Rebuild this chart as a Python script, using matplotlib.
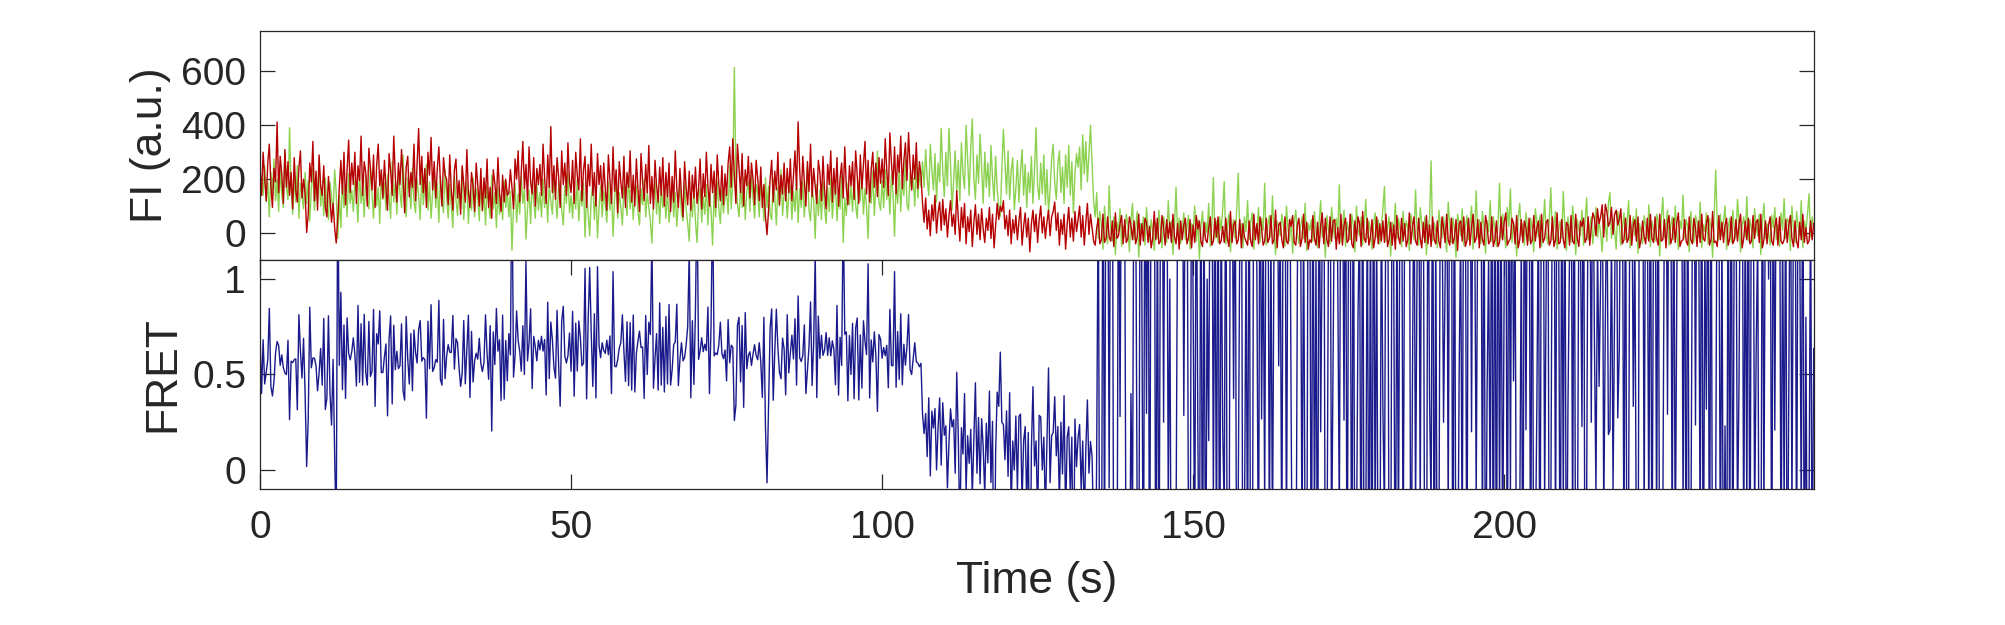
import numpy as np
import matplotlib
matplotlib.use('Agg')
import matplotlib.pyplot as plt

plt.rcParams['font.family'] = ['Liberation Sans', 'DejaVu Sans']

# frame time of the trace (s)
DT = 0.25

# acceptor intensity (a.u.), 0 - 106.5 s
red_high = [
    250, 140, 300, 205, 120, 260, 330, 175, 95, 240, 190, 412, 150, 285, 220, 110, 310, 170, 265, 140,
    225, 90, 280, 160, 115, 240, 305, 130, 200, 150, 2, 70, 260, 190, 340, 120, 230, 85, 290, 175,
    140, 250, 95, 60, 210, 130, 40, 110, 20, -37, 55, 170, 270, 145, 300, 105, 235, 345, 150, 260,
    180, 300, 110, 250, 195, 360, 140, 265, 225, 100, 315, 240, 160, 290, 95, 250, 330, 175, 235, 130,
    270, 165, 85, 295, 230, 140, 360, 210, 115, 260, 180, 310, 205, 75, 245, 285, 135, 225, 170, 330,
    120, 255, 388, 180, 285, 150, 240, 95, 300, 215, 355, 160, 265, 130, 240, 320, 190, 100, 280, 215,
    200, 105, 290, 160, 85, 235, 275, 130, 195, 70, 250, 180, 115, 310, 150, 95, 225, 175, 80, 260,
    180, 100, 240, 85, 205, 130, 275, 95, 170, 55, 235, 185, 110, 280, 150, 80, 215, 115, 200, 140,
    150, 235, 170, 90, 275, 200, 305, 115, 225, 340, 165, 255, 120, 320, 190, 145, 280, 100, 240, 180,
    255, 140, 330, 205, 110, 290, 170, 395, 150, 250, 125, 280, 210, 95, 305, 180, 260, 140, 335, 190,
    150, 270, 110, 300, 215, 160, 350, 120, 235, 285, 95, 255, 175, 330, 140, 225, 100, 295, 180, 250,
    120, 260, 165, 85, 290, 200, 110, 320, 155, 235, 75, 265, 190, 130, 285, 95, 225, 170, 305, 115,
    215, 100, 275, 165, 80, 295, 190, 120, 255, 150, 325, 110, 210, 90, 270, 175, 115, 245, 140, 280,
    100, 225, 135, 260, 80, 210, 115, 305, 165, 95, 240, 140, 60, 265, 170, 105, 230, 85, 215, 130,
    245, 110, 165, 275, 90, 220, 135, 300, 175, 100, 255, 150, 230, 95, 290, 180, 120, 250, 105, 220,
    140, 260, 320, 170, 350, 215, 110, 330, 240, 150, 295, 100, 235, 175, 285, 130, 260, 200, 105, 270,
    205, 120, 245, 95, 180, 60, -6, 85, 200, 270, 115, 230, 160, 300, 105, 215, 145, 260, 120, 240,
    150, 275, 120, 215, 305, 160, 413, 235, 125, 285, 190, 100, 265, 155, 330, 135, 240, 175, 110, 270,
    225, 120, 285, 160, 90, 255, 180, 305, 115, 240, 145, 280, 100, 205, 260, 130, 320, 170, 105, 250,
    175, 265, 125, 305, 215, 110, 290, 165, 250, 340, 145, 270, 115, 235, 300, 170, 260, 135, 280, 185,
    275, 170, 350, 235, 140, 372, 260, 180, 320, 145, 290, 225, 360, 165, 270, 335, 195, 373, 250, 160,
    290, 200, 335, 165, 265, 215,
]

# donor intensity (a.u.), 0 - 106.5 s
green_high = [
    100, 210, 140, 250, 115, 190, 60, 225, 150, 275, 120, 200, 80, 235, 145, 95, 300, 170, 125, 391,
    170, 70, 205, 115, 250, 55, 185, 140, 90, 225, 110, 195, 45, 165, 240, 85, 190, 120, 280, 100,
    175, 65, 205, 100, 50, 190, 130, 80, 235, 150, -20, 140, 20, 200, 95, 175, 60, 220, 110, 160,
    80, 195, 140, 40, 230, 110, 175, 60, 215, 125, 90, 250, 150, 55, 190, 100, 170, 35, 225, 125,
    185, 85, 215, 135, 55, 265, 115, 190, 70, 230, 150, 95, 290, 130, 60, 205, 165, 90, 240, 120,
    75, 200, 140, 50, 215, 105, 175, 255, 85, 190, 55, 150, 230, 95, 185, 40, 210, 125, 75, 235,
    135, 55, 180, 100, 20, 210, 125, 65, 170, 90, 245, 50, 140, 185, 35, 155, 85, 205, 60, 165,
    130, 45, 190, 80, 160, 30, 175, 105, 55, 215, 90, 150, 20, 170, 70, 140, 50, 195, 95, 160,
    60, 155, -64, 95, 185, 40, 145, 70, 210, 110, 165, -22, 90, 160, 35, 195, 120, 55, 180, 85,
    150, 60, 200, 95, 170, 40, 185, 115, 70, 215, 135, 55, 170, 190, 85, 30, 175, 110, 225, 75,
    140, 55, 175, 90, 200, 45, 155, 100, 185, -15, 160, 70, -10, 135, 180, 50, 165, -18, 95, 175,
    60, 155, 105, 40, 190, 85, 165, -12, 130, 200, 55, 150, 95, 30, 175, 110, 65, 215, 90, 160,
    50, 145, 175, 80, 30, 165, 105, 200, 60, 150, 95, 45, -37, 120, 190, 70, 160, 35, 175, 95,
    145, 55, 165, 40, 100, 190, 60, 150, 25, 120, 175, 70, 45, 185, 90, 35, -30, 140, 60, 160,
    45, -35, 120, 165, 40, 135, 70, 180, 30, 150, 85, -45, 155, 60, 190, 95, 35, 160, 75, 130,
    160, 70, 250, 90, 195, 615, 215, 105, 60, 175, 95, 205, 50, 155, 190, 80, 215, 130, 55, 180,
    150, 60, 190, 155, 45, 205, 95, 175, 70, 50, 200, 140, 30, 170, 100, 235, 65, 150, 185, 55,
    145, 175, 50, 155, 80, 200, 40, 165, 95, 190, 60, 150, 245, 85, 45, 170, 120, -20, 180, 65,
    160, 50, 190, 95, 35, 170, 80, 205, 55, 140, 180, 45, 155, 90, 215, -35, 130, 65, 185, 105,
    175, 80, 210, 105, 55, 190, 120, 220, 70, 165, 95, -20, 190, 110, 230, 65, 175, 305, 115, 85,
    195, 95, 235, 125, 185, 70, 215, 150, -12, 190, 110, 250, 80, 205, 140, 275, 105, 85, 225, 160,
    205, 100, 255, 130, 225, 170,
]

# 106.5 - 134 s
red_mid = [
    110, 40, 130, 15, 85, -10, 105, 45, 140, 0, 75, 115, 10, 125, 30, 90, -15, 65, 120, 25,
    70, -5, 157, 55, -30, 95, 20, 110, -40, 60, 5, 85, -50, 40, 105, -5, 70, -25, 90, 15,
    -35, 55, 10, 95, -20, 70, -55, 30, 110, 50, 100, 80, 120, 15, 65, -10, 85, -40, 50, 0,
    65, -25, 45, 95, -45, 25, 75, -15, 55, -70, 35, 85, 5, 70, -35, 50, 100, 0, 60, -20,
    40, 85, -10, 60, 80, 115, 10, 75, -45, 50, -5, 70, -60, 35, 95, -15, 55, -30, 80, 5,
    50, 100, -15, 65, -45, 40, 110, -5, 70, 20,
]

green_mid = [
    265, 170, 310, 200, 140, 330, 235, 160, 295, 115, 260, 190, 389, 230, 135, 300, 175, 389, 255, 86,
    195, 305, 150, 270, 120, 335, 220, 165, 400, 275, 140, 315, 424, 200, 125, 290, 185, 367, 245, 110,
    300, 170, 260, 135, 325, 205, 120, 285, 160, 100, 62, 240, 385, 265, 145, 305, 125, 230, 280, 86,
    165, 270, 115, 230, 310, 140, 255, 95, 225, 150, 285, 110, 235, 391, 175, 125, 260, 145, 290, 105,
    235, 74, 160, 275, 330, 185, 125, 255, 305, 150, 245, 110, 290, 170, 325, 140, 265, 74, 220, 295,
    245, 320, 160, 365, 220, 340, 190, 295, 400, 255,
]

# 134 - 250 s (both dyes bleached)
red_low = [
    -30, -45, 20, 55, -40, -25, 70, -35, -20, 60, -15, -30, 45, -50, 75, -20, -10, 35, 65, -40,
    50, -35, -20, 60, 30, -25, 45, -40, -15, 70, -45, 35, -30, 55, 40, -35, 25, -55, -20, 80,
    -25, 55, -40, -30, 65, 20, -45, 50, -20, 40, -35, 70, -15, -40, 35, -60, 45, -25, 30, 55,
    -40, -20, 50, -55, 30, -35, 65, 15, 45, -30, -50, 40, -25, -35, 20, 60, -45, -30, 55, -15,
    60, -40, -30, 25, -35, 55, -20, -50, 80, -35, 30, 45, -40, -25, 50, -55, 35, -15, -30, -45,
    45, -30, -50, 70, -25, 35, -40, 60, 20, -45, -30, 55, -35, -20, 65, -40, -25, 85, -55, 30,
    40, -25, -55, 60, -30, -40, 50, 25, 65, -35, -45, 30, 55, -50, -20, 70, -35, 40, -60, -25,
    -35, 65, -20, -45, 40, -55, 30, 75, -40, 55, -25, -50, 60, -30, 45, 50, -60, 20, -40, 70,
    -45, 30, 55, -35, -25, 70, -40, -55, 45, -30, 60, 35, -50, 80, -20, -35, 55, -45, -15, 50,
    -55, -20, 60, -40, 35, -30, 45, -35, 70, -50, -25, 40, -45, 30, -60, 65, -15, -40, 55, -30,
    35, -50, -25, 75, -40, 25, 60, -30, -45, 55, -20, -55, 40, -35, 65, -40, 30, -50, 60, -25,
    -40, 45, -30, -55, 60, 20, -35, 70, -25, -45, 55, -40, -20, 50, -65, 35, 45, -30, 60, -50,
    -30, 55, -45, 25, 70, -35, -20, 50, -55, 40, -25, -45, 65, 30, -40, -30, 60, -50, -25, 45,
    -50, -35, 60, -25, 40, 75, -45, -30, -20, 55, 35, -40, 65, -55, -25, 50, -35, 45, 20, -45,
    55, -40, -25, 65, -30, 20, 45, -55, 70, -35, -20, 40, 50, -45, -30, 60, -50, -25, 75, -40,
    -35, 50, -25, -55, 40, 30, -45, 65, -30, -40, 70, -20, -50, 45, 25, 55, -35, -20, 60, -45,
    20, 75, 55, -10, 90, 35, 60, 105, -15, 107, 80, 25, 40, 95, -5, 70, 85, 30, 50, 90,
    -40, -25, 55, -35, -20, 65, -45, 30, 50, -30, 60, -55, -25, 45, -15, -40, 55, -30, 70, -20,
    -35, 60, -20, -45, 70, -30, -25, 50, -55, 35, 65, -40, -20, 55, -35, 40, 75, -50, -30, -25,
    50, -30, -45, 60, -25, -40, 55, 20, -50, 45, -35, 70, -20, -30, 35, 65, -45, -25, 80, -35,
    -30, -50, 65, -25, 40, -35, 30, 55, -45, -20, 60, -40, -25, 50, -30, 35, 70, -55, -20, 45,
    -25, 55, -40, -30, 65, -20, 40, 50, -35, 70, -55, -25, 45, -40, 30, 60, -30, -45, 25, 55,
    -45, 60, -30, -40, -25, 50, -35, 30, 65, -20, -50, 45, -30, -55, 40, -25, 70, -35, 20, -40,
    -30, 45, -25, 35,
]

green_low = [
    120, 60, 150, -20, 80, 30, -60, 100, 10, -40, 175, 20, -30, 60, -80, 40, 5, 90, -50, 25,
    -15, 70, 30, -70, 45, 110, -25, 15, 80, -90, 35, 0, 60, -45, 95, 20, -30, 50, 5, -65,
    40, -20, 85, 10, -55, 60, 25, -35, 120, 0, 45, -80, 30, 170, -10, 55, -40, 15, 75, -25,
    20, 65, -60, 35, 5, 100, -30, 50, -95, 25, 80, -15, 40, 0, 110, -50, 30, 206, -20, 45,
    -35, 60, 10, 90, 191, -40, 25, 70, -70, 15, 50, -20, 85, 222, -10, 35, -55, 60, 5, 120,
    -25, 40, 75, -60, 20, 0, 95, -35, 55, 10, 185, -45, 30, 65, -15, 138, 5, -80, 45, 25,
    -10, 70, 30, -50, 100, 15, -30, 55, -75, 40, 85, 0, -40, 20, 60, -20, 110, -65, 35, 10,
    50, -30, 80, 5, -55, 40, 120, -15, 25, -90, 65, 10, -40, 95, 30, -20, 55, 0, 179, -35,
    20, 85, -50, 40, 10, -25, 70, 30, -70, 100, 15, -10, 60, -45, 35, 125, -20, 45, 5, -60,
    30, 75, -15, 50, -40, 10, 90, 173, -30, 25, 60, -85, 40, 0, 110, -20, 55, 15, -50, 80,
    -10, 45, 20, -65, 70, 30, -25, 160, 5, -45, 95, 35, -15, 60, -80, 20, 50, 268, -30, 40,
    10, -55, 85, 25, -20, 60, 0, -70, 115, 30, -35, 55, 15, -90, 70, 40, -10, 90, -45, 20,
    65, -25, 35, 100, -60, 10, 157, -15, 50, -40, 80, 20, -75, 45, 5, 120, -30, 60, 15, -50,
    30, 185, -20, 70, 0, -55, 95, 25, 164, -35, 40, 10, -85, 60, 110, -10, 35, -45, 75, 20,
    -30, 55, 15, -70, 90, 40, -15, 65, -50, 20, 125, 0, -40, 50, 168, -25, 30, 80, -60, 10,
    45, -20, 154, 25, -65, 60, 5, -35, 100, 30, -80, 50, 15, -10, 85, -45, 40, 130, -25, 20,
    60, -40, 25, 95, -15, 45, 0, -70, 70, 35, -30, 110, 150, -20, 55, 10, -60, 80, 30, -45,
    15, 75, -25, 40, 120, -55, 20, 60, -10, 90, -75, 35, 5, -40, 65, 25, -20, 105, -50, 45,
    10, -30, 70, 40, -85, 55, 132, -15, 30, 85, -45, 20, 60, -25, 100, 0, -60, 45, 15, 141,
    -20, 50, 25, -70, 80, 10, -35, 65, 40, -15, 115, -55, 30, 5, 75, -40, 55, 20, -90, 60,
    234, 30, -25, 70, -10, 45, 100, -60, 20, 55, -35, 85, 10, -20, 125, 40, -70, 30, 60, -15,
    135, -30, 50, 15, -55, 90, 25, -10, 70, -80, 40, 110, -20, 35, 0, -45, 65, 20, 95, -25,
    30, -50, 75, 10, 128, -20, 55, 40, -65, 100, 15, -35, 80, 25, -10, 120, -55, 45, 5, 70,
    146, -15, 60, 20,
]

fi_ticks = [0, 200, 400, 600]
fret_ticks = [0, 0.5, 1]
time_ticks = [0, 50, 100, 150, 200]

red = np.array(red_high + red_mid + red_low, dtype=float)
green = np.array(green_high + green_mid + green_low, dtype=float)
n = min(len(red), len(green))
red, green = red[:n], green[:n]
t = np.arange(n) * DT

# apparent FRET efficiency
with np.errstate(divide='ignore', invalid='ignore'):
    fret = red / (red + green)
fret = np.clip(np.nan_to_num(fret, nan=0.5, posinf=2.0, neginf=-1.0), -1.0, 2.0)

ink = '#262626'
W, H = 2005, 625
fig = plt.figure(figsize=(W / 100, H / 100), dpi=100)
left, right = 260 / W, 1814 / W
ax1 = fig.add_axes([left, 1 - 260 / H, right - left, (260 - 31) / H])
ax2 = fig.add_axes([left, 1 - 489 / H, right - left, (489 - 260) / H])

ax1.plot(t, green, color='#8CD250', lw=1.0)
ax1.plot(t, red, color='#B40000', lw=1.0)
ax2.plot(t, fret, color='#1A1A8C', lw=1.0)

ax1.set_ylim(-100, 750)
ax2.set_ylim(-0.1, 1.1)
for ax in (ax1, ax2):
    ax.set_xlim(0, 249.8)
    ax.set_xticks(time_ticks)
    for s in ax.spines.values():
        s.set_color(ink)
        s.set_linewidth(0.9)
    ax.tick_params(direction='in', length=11, width=0.9, color=ink,
                   labelcolor=ink, labelsize=28, right=True, top=True)
    ax.tick_params(axis='y', pad=10)
    ax.tick_params(axis='x', pad=15)

ax1.set_yticks(fi_ticks)
ax1.tick_params(axis='x', which='both', bottom=False, top=False, labelbottom=False)
ax2.set_yticks(fret_ticks)
ax2.set_yticklabels(['0', '0.5', '1'])

ax1.set_ylabel('FI (a.u.)', fontsize=32, color=ink)
ax1.yaxis.set_label_coords(-0.0575, 0.5)
ax2.set_ylabel('FRET', fontsize=32, color=ink)
ax2.yaxis.set_label_coords(-0.049, 0.5)
ax2.set_xlabel('Time (s)', fontsize=32, color=ink)
ax2.xaxis.set_label_coords(0.5, -0.315)

fig.savefig('out.png', dpi=100)
